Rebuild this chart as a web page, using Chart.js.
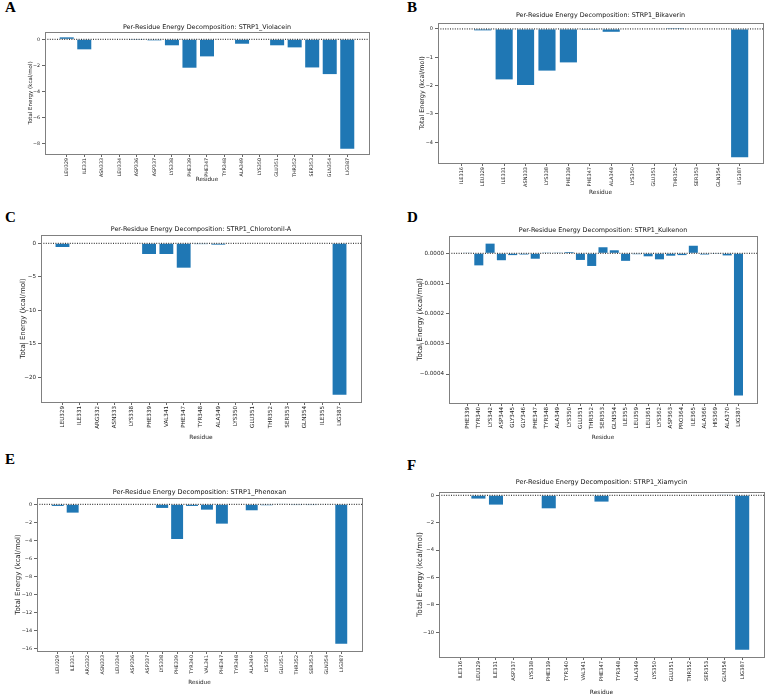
<!DOCTYPE html>
<html>
<head>
<meta charset="utf-8">
<script src="https://cdn.jsdelivr.net/npm/chart.js"></script>
<style>
  body { margin: 0; background: #fff; width: 767px; height: 699px; position: relative; overflow: hidden; }
  canvas { position: absolute; }
  .tag { position: absolute; font: bold 15px "Liberation Serif", "Times New Roman", serif; line-height: 15px; color: #000; }
</style>
</head>
<body>
<script>
// residues and energies (kcal/mol) per complex
var resA = ["LEU329","ILE331","ASN333","LEU334","ASP336","ASP337","LYS338","PHE339","PHE347","TYR348","ALA349","LYS350","GLU351","THR352","SER353","GLN354","LIG387"];
var valA = [0.15,-0.77,0,0,-0.02,-0.08,-0.46,-2.18,-1.31,0,-0.34,0,-0.46,-0.62,-2.16,-2.67,-8.4];

var resB = ["ILE316","LEU329","ILE331","ASN333","LYS338","PHE339","PHE347","ALA349","LYS350","GLU351","THR352","SER353","GLN354","LIG387"];
var valB = [0,-0.05,-1.78,-1.98,-1.47,-1.18,-0.03,-0.1,0,0,0.03,0,0,-4.53];

var resC = ["LEU329","ILE331","ARG332","ASN333","LYS338","PHE339","VAL341","PHE347","TYR348","ALA349","LYS350","GLU351","THR352","SER353","GLN354","ILE355","LIG387"];
var valC = [-0.55,-0.08,0,0,0,-1.6,-1.6,-3.64,-0.12,-0.2,0,0,0,0,0,0,-22.6];

var resD = ["PHE339","TYR340","LYS342","ASP344","GLY345","GLY346","PHE347","TYR348","ALA349","LYS350","GLU351","THR352","SER353","GLN354","ILE355","LEU359","LEU361","LYS362","ASP363","PRO364","ILE365","ALA366","HIS369","ALA370","LIG387"];
var valD = [0.000002,-0.00004,0.000032,-0.000023,-0.000006,-0.000004,-0.000018,0.000001,0.000001,0.000004,-0.000022,-0.000042,0.00002,0.00001,-0.000025,-0.000003,-0.00001,-0.00002,-0.000008,-0.000006,0.000025,-0.000004,-0.000001,-0.000007,-0.000471];

var resE = ["LEU329","ILE331","ARG332","ASN333","LEU334","ASP336","ASP337","LYS338","PHE339","TYR340","VAL341","PHE347","TYR348","ALA349","LYS350","GLU351","THR352","SER353","GLN354","LIG387"];
var valE = [-0.18,-0.92,0,0,0,0,0,-0.4,-3.84,-0.18,-0.59,-2.14,0,-0.66,-0.1,0.05,-0.08,-0.08,-0.06,-15.45];

var resF = ["ILE316","LEU329","ILE331","ASP337","LYS338","PHE339","TYR340","VAL341","PHE347","TYR348","ALA349","LYS350","GLU351","THR352","SER353","GLN354","LIG387"];
var valF = [0,-0.24,-0.68,0,0,-0.95,0,0,-0.46,0,0,0,0,0,0,0.03,-11.27];

var titlePrefix = "Per-Residue Energy Decomposition: ";

// where each panel sits on the page: plot box [left, top, right, bottom]
var panels = [
  {tag:"A", tx:5,   ty:3,   name:"STRP1_Violacein",    cats:resA, vals:valA, box:[45,32,369,154],   ymin:-8.8,  ymax:0.56, step:2, dec:0, titleY:28,  yDist:15, xDist:26, fs:{title:6.4, y:5.5, x:5.7, tick:4.8}},
  {tag:"B", tx:407, ty:3,   name:"STRP1_Bikaverin",    cats:resB, vals:valB, box:[438,23,763,163],  ymin:-4.73, ymax:0.21, step:1, dec:0, titleY:16,  yDist:15, xDist:30, fs:{title:6.4, y:6.4, x:5.8, tick:5.0}},
  {tag:"C", tx:5,   ty:213, name:"STRP1_Chlorotonil-A", cats:resC, vals:valC, box:[41,235,361,402],  ymin:-23.7, ymax:1.24, step:5, dec:0, titleY:230, yDist:18, xDist:35, fs:{title:6.4, y:7.0, x:5.9, tick:5.6}},
  {tag:"D", tx:407, ty:213, name:"STRP1_Kulkenon",     cats:resD, vals:valD, box:[449,236,757,403], ymin:-0.000496, ymax:0.0000573, step:0.0001, dec:4, titleY:231, yDist:29, xDist:35, fs:{title:6.4, y:7.2, x:5.7, tick:5.6}},
  {tag:"E", tx:5,   ty:455, name:"STRP1_Phenoxan",     cats:resE, vals:valE, box:[37,498,362,651],  ymin:-16.25, ymax:0.7, step:2, dec:0, titleY:492, yDist:19, xDist:32, fs:{title:6.5, y:7.0, x:5.7, tick:4.9}},
  {tag:"F", tx:407, ty:461, name:"STRP1_Xiamycin",     cats:resF, vals:valF, box:[439,492,764,657], ymin:-11.8, ymax:0.24, step:2, dec:0, titleY:482, yDist:19, xDist:35, fs:{title:6.5, y:7.4, x:5.9, tick:5.2}}
];

Chart.defaults.font.family = '"DejaVu Sans", sans-serif';
Chart.defaults.color = "#222";

// axes box + dotted zero line like matplotlib axhline(0, ls=':')
var framePlugin = {
  id: "frame",
  afterDatasetsDraw: function(chart) {
    var a = chart.chartArea, ctx = chart.ctx;
    var y0 = chart.scales.y.getPixelForValue(0);
    ctx.save();
    ctx.strokeStyle = "#111";
    ctx.lineWidth = 1;
    ctx.setLineDash([1, 1.4]);
    ctx.beginPath();
    ctx.moveTo(a.left, y0);
    ctx.lineTo(a.right, y0);
    ctx.stroke();
    ctx.setLineDash([]);
    ctx.strokeStyle = "#808080";
    ctx.lineWidth = 1;
    ctx.strokeRect(Math.round(a.left) + 0.5, Math.round(a.top) + 0.5, Math.round(a.right - a.left), Math.round(a.bottom - a.top));
    ctx.restore();
  }
};

function fmtY(v, dec) {
  if (Math.abs(v) < 1e-12) v = 0;
  var s = v.toFixed(dec);
  return s.charAt(0) == "-" ? "\u2212" + s.slice(1) : s;
}

panels.forEach(function(p) {
  var l = p.box[0], t = p.box[1], r = p.box[2], b = p.box[3];
  var n = p.cats.length;
  var pad = 0.4 + 0.05 * (n - 0.2);   // matplotlib default x margins
  var lhT = p.fs.title * 1.2, lhY = p.fs.y * 1.2, lhX = p.fs.x * 1.2;

  var top = Math.round(Math.min(p.titleY - lhT / 2, t - lhT));
  var left = Math.round(l - p.yDist - lhY / 2);
  var right = r + 3;
  var height = Math.round(b + p.xDist + lhX / 2 - top);
  var yW = l - left, xH = top + height - b, padTitle = t - top - lhT;

  var tag = document.createElement("div");
  tag.className = "tag";
  tag.textContent = p.tag;
  tag.style.left = p.tx + "px";
  tag.style.top = (p.ty - 3) + "px";
  document.body.appendChild(tag);

  var cv = document.createElement("canvas");
  cv.width = right - left;
  cv.height = height;
  cv.style.left = left + "px";
  cv.style.top = top + "px";
  document.body.appendChild(cv);

  new Chart(cv, {
    type: "bar",
    data: {
      datasets: [{
        data: p.vals.map(function(v, i) { return {x: i, y: v}; }),
        backgroundColor: "#1f77b4",
        borderWidth: 0,
        barPercentage: 0.8,
        categoryPercentage: 1
      }]
    },
    options: {
      responsive: false,
      animation: false,
      events: [],
      layout: { padding: { right: 3 } },
      plugins: {
        legend: { display: false },
        tooltip: { enabled: false },
        title: {
          display: true, text: titlePrefix + p.name, fullSize: false, color: "#111",
          font: { size: p.fs.title, weight: "normal" }, padding: { top: 0, bottom: padTitle }
        }
      },
      scales: {
        x: {
          type: "linear", offset: false, min: -pad, max: n - 1 + pad,
          grid: { drawOnChartArea: false, drawTicks: true, tickLength: 3, color: "#666", offset: false },
          border: { display: false },
          ticks: {
            autoSkip: false, minRotation: 90, maxRotation: 90, padding: 1, stepSize: 1,
            font: { size: p.fs.tick }, color: "#222",
            callback: function(v) { return p.cats[v]; }
          },
          title: { display: true, text: "Residue", color: "#222", font: { size: p.fs.x }, padding: 0 },
          afterBuildTicks: function(s) { s.ticks = p.cats.map(function(c, i) { return {value: i}; }); },
          afterFit: function(s) { s.height = xH; }
        },
        y: {
          min: p.ymin, max: p.ymax,
          grid: { drawOnChartArea: false, drawTicks: true, tickLength: 3, color: "#666" },
          border: { display: false },
          ticks: {
            stepSize: p.step, includeBounds: false, padding: 2,
            font: { size: p.fs.tick }, color: "#222",
            callback: function(v) { return fmtY(v, p.dec); }
          },
          title: { display: true, text: "Total Energy (kcal/mol)", color: "#222", font: { size: p.fs.y }, padding: 0 },
          afterBuildTicks: function(s) {
            s.ticks = s.ticks.filter(function(tk) {
              var k = tk.value / p.step;
              return Math.abs(k - Math.round(k)) < 1e-6;
            });
          },
          afterFit: function(s) { s.width = yW; }
        }
      }
    },
    plugins: [framePlugin]
  });
});
</script>
</body>
</html>
